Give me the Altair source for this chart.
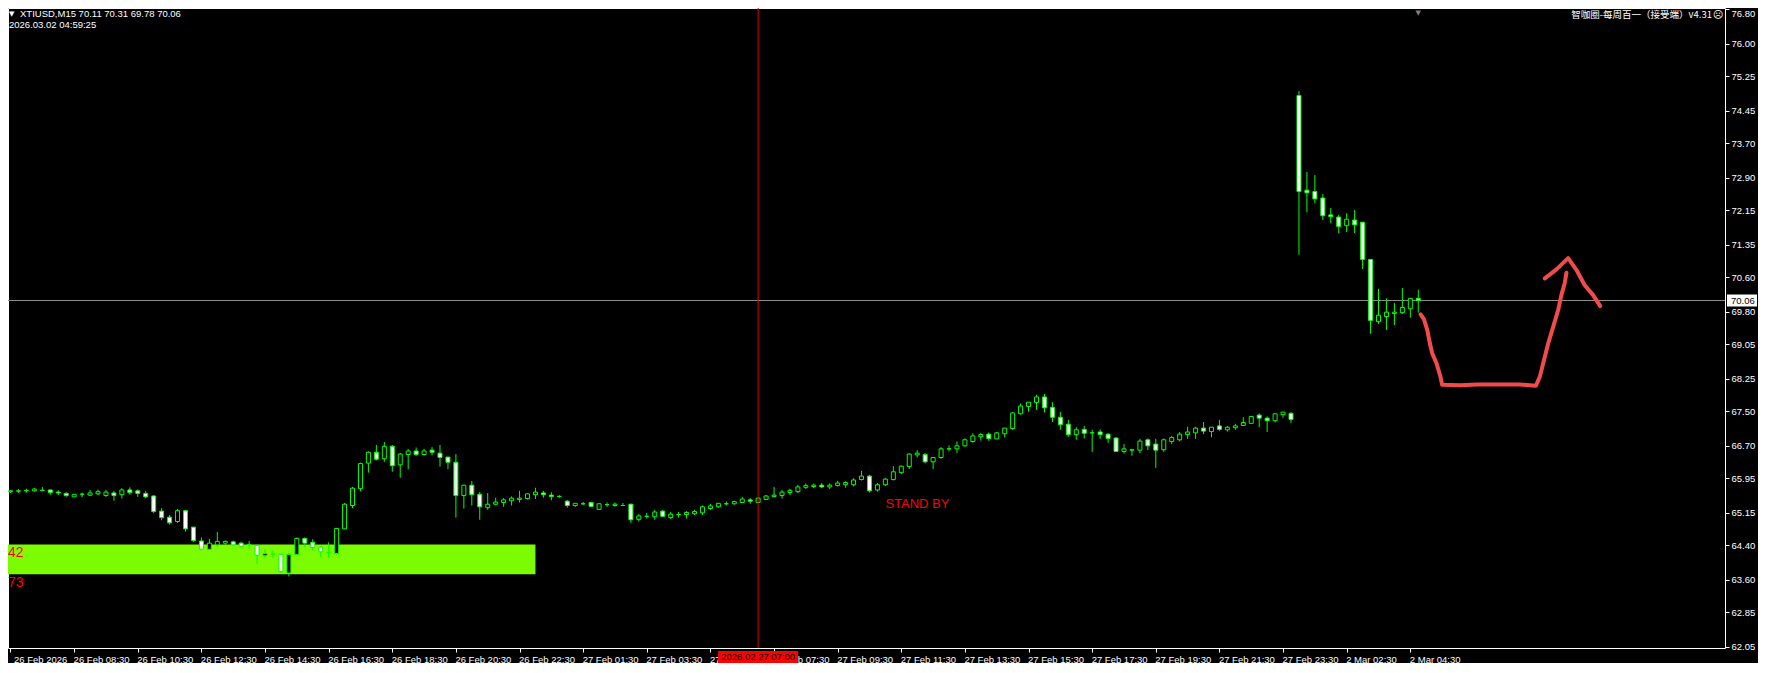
import altair as alt
import pandas as pd

# ---------------- data ----------------
symbol = "XTIUSD"
timeframe = "M15"
server_time = "2026.03.02 04:59:25"
indicator_title = "智咖圈-每周百一（接受端）v4.31"

bar_open = [65.64, 65.65, 65.66, 65.66, 65.67, 65.68, 65.63, 65.60, 65.52, 65.58,
            65.56, 65.59, 65.55, 65.61, 65.57, 65.68, 65.66, 65.60, 65.54, 65.19,
            65.05, 64.95, 65.20, 64.82, 64.50, 64.31, 64.41, 64.45, 64.48, 64.45,
            64.41, 64.40, 64.16, 64.20, 64.19, 63.76, 64.19, 64.56, 64.47, 64.36,
            64.23, 64.21, 64.78, 65.32, 65.71, 66.30, 66.55, 66.40, 66.69, 66.26,
            66.50, 66.58, 66.50, 66.60, 66.53, 66.44, 66.32, 65.55, 65.79, 65.58,
            65.27, 65.35, 65.39, 65.43, 65.46, 65.48, 65.57, 65.61, 65.56, 65.53,
            65.42, 65.32, 65.36, 65.39, 65.23, 65.34, 65.32, 65.32, 65.35, 65.00,
            65.07, 65.06, 65.19, 65.04, 65.11, 65.11, 65.13, 65.15, 65.25, 65.29,
            65.36, 65.36, 65.39, 65.45, 65.39, 65.46, 65.53, 65.55, 65.62, 65.64,
            65.74, 65.76, 65.79, 65.75, 65.78, 65.80, 65.80, 65.92, 66.00, 65.68,
            65.80, 65.92, 66.08, 66.22, 66.49, 66.50, 66.33, 66.43, 66.63, 66.63,
            66.70, 66.80, 66.91, 66.97, 66.86, 66.98, 67.10, 67.44, 67.61, 67.70,
            67.83, 67.59, 67.36, 67.20, 66.96, 67.08, 67.00, 67.02, 66.97, 66.88,
            66.57, 66.60, 66.60, 66.84, 66.74, 66.61, 66.80, 66.84, 66.96, 67.00,
            67.11, 67.03, 67.16, 67.07, 67.12, 67.17, 67.22, 67.41, 67.34, 67.28,
            67.42, 67.45, 74.80, 72.61, 72.58, 72.43, 72.04, 71.99, 71.79, 71.92,
            71.87, 71.01, 69.57, 69.69, 69.76, 69.78, 69.87, 70.11]
bar_high = [65.68, 65.70, 65.71, 65.73, 65.75, 65.68, 65.67, 65.63, 65.58, 65.62,
            65.68, 65.69, 65.68, 65.66, 65.72, 65.74, 65.69, 65.66, 65.56, 65.26,
            65.10, 65.24, 65.22, 64.82, 64.58, 64.55, 64.71, 64.51, 64.51, 64.48,
            64.50, 64.40, 64.31, 64.28, 64.21, 64.22, 64.58, 64.58, 64.54, 64.39,
            64.47, 64.80, 65.38, 65.75, 66.31, 66.57, 66.72, 66.79, 66.72, 66.54,
            66.63, 66.66, 66.63, 66.67, 66.72, 66.44, 66.51, 65.79, 65.89, 65.63,
            65.61, 65.50, 65.49, 65.53, 65.66, 65.60, 65.73, 65.66, 65.63, 65.56,
            65.45, 65.37, 65.40, 65.39, 65.37, 65.39, 65.39, 65.38, 65.36, 65.12,
            65.15, 65.22, 65.22, 65.17, 65.17, 65.19, 65.22, 65.32, 65.36, 65.38,
            65.41, 65.43, 65.52, 65.49, 65.51, 65.56, 65.75, 65.68, 65.71, 65.80,
            65.83, 65.83, 65.84, 65.83, 65.89, 65.88, 65.95, 66.12, 66.03, 65.84,
            65.96, 66.23, 66.24, 66.53, 66.60, 66.53, 66.43, 66.67, 66.71, 66.80,
            66.87, 66.99, 67.00, 67.01, 67.02, 67.11, 67.48, 67.68, 67.71, 67.88,
            67.90, 67.71, 67.48, 67.30, 67.13, 67.16, 67.07, 67.08, 66.99, 66.90,
            66.74, 66.63, 66.86, 66.87, 66.86, 66.87, 66.93, 67.02, 67.14, 67.14,
            67.25, 67.13, 67.30, 67.16, 67.21, 67.36, 67.38, 67.45, 67.38, 67.45,
            67.48, 67.48, 74.90, 73.03, 72.96, 72.52, 72.20, 72.04, 72.08, 72.15,
            71.87, 71.01, 70.33, 70.11, 70.00, 70.35, 70.11, 70.31]
bar_low = [65.61, 65.61, 65.62, 65.64, 65.65, 65.57, 65.56, 65.52, 65.52, 65.51,
           65.54, 65.56, 65.52, 65.43, 65.48, 65.57, 65.52, 65.49, 65.14, 64.98,
           64.88, 64.92, 64.72, 64.48, 64.28, 64.29, 64.37, 64.41, 64.39, 64.35,
           64.32, 63.97, 64.12, 64.11, 63.76, 63.68, 64.18, 64.36, 64.28, 64.13,
           64.13, 64.18, 64.78, 65.26, 65.65, 66.08, 66.36, 66.33, 66.10, 65.96,
           66.16, 66.47, 66.48, 66.48, 66.22, 66.16, 65.04, 65.25, 65.32, 64.99,
           65.22, 65.33, 65.29, 65.32, 65.39, 65.46, 65.47, 65.50, 65.44, 65.50,
           65.27, 65.29, 65.33, 65.29, 65.22, 65.29, 65.29, 65.32, 64.92, 64.95,
           65.02, 64.99, 65.05, 65.01, 65.04, 65.02, 65.10, 65.10, 65.22, 65.27,
           65.32, 65.34, 65.38, 65.36, 65.38, 65.45, 65.52, 65.48, 65.56, 65.61,
           65.70, 65.72, 65.72, 65.70, 65.76, 65.73, 65.76, 65.90, 65.62, 65.64,
           65.77, 65.90, 66.05, 66.16, 66.43, 66.30, 66.16, 66.40, 66.57, 66.53,
           66.68, 66.77, 66.82, 66.82, 66.86, 66.90, 67.07, 67.42, 67.49, 67.53,
           67.47, 67.25, 67.07, 66.91, 66.84, 66.87, 66.56, 66.86, 66.77, 66.56,
           66.52, 66.47, 66.53, 66.60, 66.19, 66.56, 66.74, 66.81, 66.86, 66.86,
           66.97, 66.90, 67.05, 67.03, 67.07, 67.16, 67.21, 67.13, 67.02, 67.24,
           67.35, 67.23, 71.12, 72.10, 72.31, 71.92, 71.85, 71.62, 71.64, 71.62,
           70.79, 69.29, 69.52, 69.38, 69.49, 69.75, 69.66, 69.78]
bar_close = [65.66, 65.66, 65.67, 65.70, 65.67, 65.62, 65.61, 65.55, 65.58, 65.58,
             65.61, 65.64, 65.63, 65.55, 65.68, 65.62, 65.60, 65.52, 65.18, 65.04,
             64.92, 65.20, 64.78, 64.51, 64.31, 64.45, 64.49, 64.49, 64.41, 64.38,
             64.42, 64.17, 64.21, 64.20, 63.79, 64.19, 64.56, 64.45, 64.35, 64.25,
             64.23, 64.79, 65.35, 65.72, 66.29, 66.55, 66.39, 66.69, 66.24, 66.51,
             66.58, 66.50, 66.58, 66.55, 66.43, 66.32, 65.55, 65.79, 65.57, 65.29,
             65.35, 65.40, 65.45, 65.49, 65.49, 65.59, 65.63, 65.57, 65.53, 65.53,
             65.32, 65.37, 65.36, 65.30, 65.36, 65.34, 65.35, 65.32, 64.99, 65.08,
             65.07, 65.17, 65.07, 65.12, 65.11, 65.16, 65.18, 65.29, 65.31, 65.37,
             65.36, 65.41, 65.47, 65.42, 65.49, 65.54, 65.56, 65.63, 65.67, 65.75,
             65.78, 65.79, 65.75, 65.79, 65.84, 65.85, 65.91, 66.00, 65.66, 65.80,
             65.93, 66.10, 66.23, 66.51, 66.53, 66.33, 66.43, 66.63, 66.63, 66.70,
             66.84, 66.93, 66.96, 66.87, 67.00, 67.11, 67.46, 67.62, 67.71, 67.83,
             67.58, 67.36, 67.19, 66.96, 67.07, 66.99, 67.00, 66.96, 66.87, 66.57,
             66.63, 66.61, 66.81, 66.70, 66.60, 66.84, 66.89, 66.97, 67.02, 67.11,
             67.04, 67.13, 67.08, 67.13, 67.16, 67.24, 67.38, 67.34, 67.28, 67.44,
             67.48, 67.31, 72.58, 72.55, 72.41, 72.02, 72.00, 71.77, 71.94, 71.81,
             71.01, 69.60, 69.72, 69.79, 69.79, 69.90, 70.11, 70.06]

x_tick_bars = [0, 8, 16, 24, 32, 40, 48, 56, 64, 72, 80, 88, 96, 104, 112, 120,
               128, 136, 144, 152, 160, 168, 176]
x_tick_labels = ["26 Feb 2026", "26 Feb 08:30", "26 Feb 10:30", "26 Feb 12:30",
                 "26 Feb 14:30", "26 Feb 16:30", "26 Feb 18:30", "26 Feb 20:30",
                 "26 Feb 22:30", "27 Feb 01:30", "27 Feb 03:30", "27 Feb 05:30",
                 "27 Feb 07:30", "27 Feb 09:30", "27 Feb 11:30", "27 Feb 13:30",
                 "27 Feb 15:30", "27 Feb 17:30", "27 Feb 19:30", "27 Feb 21:30",
                 "27 Feb 23:30", "2 Mar 02:30", "2 Mar 04:30"]
y_tick_values = [76.80, 76.00, 75.25, 74.45, 73.70, 72.90, 72.15, 71.35, 70.60,
                 69.80, 69.05, 68.25, 67.50, 66.70, 65.95, 65.15, 64.40, 63.60,
                 62.85, 62.05]

zone_top = 64.42
zone_bottom = 63.73
zone_start_bar = -2
zone_end_bar = 66
zone_label_top = "42"
zone_label_bottom = "73"
bid_price = 70.06
vline_bar = 94
vline_label = "2026.02.27 07:00"
shift_bar = 177
note_bar = 110
note_price = 65.36
note_text = "STAND BY"

path_bar = [177.29, 177.71, 178.13, 178.46, 178.75, 179.29, 179.79, 180.0, 182.29,
            184.38, 189.79, 191.79, 192.29, 192.71, 193.34, 193.96, 194.59, 195.0,
            195.41, 195.63,
            192.91, 194.38, 195.84, 196.88, 197.91, 198.96, 199.88]
path_price = [69.74, 69.63, 69.38, 69.07, 68.84, 68.61, 68.30, 68.11, 68.10,
              68.12, 68.12, 68.09, 68.30, 68.61, 69.07, 69.45, 69.84, 70.19,
              70.46, 70.70,
              70.57, 70.78, 71.04, 70.77, 70.42, 70.19, 69.93]
path_stroke = [1] * 20 + [2] * 7

# ---------------- layout ----------------
W, H = 1717, 640
X_DOMAIN = [0.3125, 214.9375]
Y_DOMAIN = [62.0254, 76.8231]
GREEN = "#00ff00"
RED = "#ff0000"
FONT = "Liberation Sans"

xs = alt.Scale(domain=X_DOMAIN, nice=False, zero=False)
ys = alt.Scale(domain=Y_DOMAIN, nice=False, zero=False)

n = len(bar_open)
candles = pd.DataFrame({
    "bar": list(range(n)),
    "open": bar_open, "high": bar_high, "low": bar_low, "close": bar_close,
})
candles["body_top"] = candles[["open", "close"]].max(axis=1)
candles["body_bot"] = candles[["open", "close"]].min(axis=1)
candles["fill"] = ["black" if c > o else ("white" if c < o else GREEN)
                   for o, c in zip(bar_open, bar_close)]

tick_pos = [b + 0.5 for b in x_tick_bars]
labels_js = "[" + ",".join("'" + s + "'" for s in x_tick_labels) + "]"
pos_js = "[" + ",".join(str(p) for p in tick_pos) + "]"

x_axis = alt.Axis(
    values=tick_pos, tickOffset=-4,
    labelExpr=f"{labels_js}[indexof({pos_js}, datum.value)]",
    labelOffset={"condition": {"test": "datum.value < 1", "value": 3}, "value": -1},
    labelAlign="left", labelBaseline="top", labelPadding=2,
    tickSize=4, tickColor="white", labelColor="white", domain=False, grid=False,
    labelFont=FONT, labelFontSize=9.5, labelOverlap=False, labelBound=False,
    labelFlush=False, title=None, orient="bottom")
y_axis = alt.Axis(
    values=y_tick_values, format=".2f", orient="right",
    labelAlign="left",
    labelBaseline={"condition": {"test": "datum.value > 76.7", "value": "top"}, "value": "middle"},
    labelPadding=2, tickSize=4, tickColor="white", labelColor="white",
    domain=False, grid=False, labelFont=FONT, labelFontSize=9.5,
    labelOverlap=False, labelBound=False, labelFlush=False, title=None)


def X(f):
    return alt.X(f, type="quantitative", scale=xs, axis=x_axis)


def Y(f):
    return alt.Y(f, type="quantitative", scale=ys, axis=y_axis)


zone = alt.Chart(pd.DataFrame({"x0": [zone_start_bar], "x1": [zone_end_bar],
                               "y0": [zone_bottom], "y1": [zone_top]})).mark_rect(
    color="#7cfc00", clip=True).encode(x=X("x0"), x2=alt.X2("x1"), y=Y("y0"), y2=alt.Y2("y1"))

bid_line = alt.Chart(pd.DataFrame({"price": [bid_price]})).mark_rule(
    color="#8c8c8c", strokeWidth=1).encode(y=Y("price"))

wicks = alt.Chart(candles).mark_rule(color=GREEN, strokeWidth=1, clip=True).encode(
    x=X("bar"), y=Y("low"), y2=alt.Y2("high"))

bodies = alt.Chart(candles).mark_bar(size=4, stroke=GREEN, strokeWidth=1, clip=True).encode(
    x=X("bar"), y=Y("body_bot"), y2=alt.Y2("body_top"),
    fill=alt.Fill("fill:N", scale=None))

vline = alt.Chart(pd.DataFrame({"bar": [vline_bar]})).mark_rule(
    color="#e00000", strokeWidth=1).encode(x=X("bar"))

path_df = pd.DataFrame({"bar": path_bar, "price": path_price, "stroke": path_stroke,
                        "seq": list(range(len(path_bar)))})
path = alt.Chart(path_df).mark_line(color="#f24b4b", strokeWidth=4, strokeCap="round",
                                    strokeJoin="round", clip=True).encode(
    x=X("bar"), y=Y("price"), detail="stroke:N", order="seq:Q")

note = alt.Chart(pd.DataFrame({"bar": [note_bar], "price": [note_price], "t": [note_text]})).mark_text(
    color=RED, font=FONT, fontSize=13, align="left", baseline="middle", clip=True).encode(
    x=X("bar"), y=Y("price"), text="t:N")

zone_labels = alt.Chart(pd.DataFrame({"price": [zone_top, zone_bottom],
                                      "t": [zone_label_top, zone_label_bottom]})).mark_text(
    color=RED, font=FONT, fontSize=14, align="left", baseline="top", dy=2).encode(
    x=alt.value(0), y=Y("price"), text="t:N")

header1 = f"{symbol},{timeframe}  {bar_open[-1]:.2f} {bar_high[-1]:.2f} {bar_low[-1]:.2f} {bar_close[-1]:.2f}"
hdr = pd.DataFrame({"t": [header1]})
head1 = alt.Chart(hdr).mark_text(color="white", font=FONT, fontSize=9.5, align="left",
                                 baseline="middle").encode(
    x=alt.value(12), y=alt.value(5.5), text="t:N")
head_tri = alt.Chart(hdr).mark_text(color="white", font="DejaVu Sans", fontSize=7, align="left",
                                    baseline="middle").encode(
    x=alt.value(1), y=alt.value(5.5), text=alt.value("▼"))
head2 = alt.Chart(pd.DataFrame({"t": [server_time]})).mark_text(
    color="white", font=FONT, fontSize=9.5, align="left", baseline="middle").encode(
    x=alt.value(1), y=alt.value(17), text="t:N")
title_r = alt.Chart(pd.DataFrame({"t": [indicator_title]})).mark_text(
    color="white", font="Noto Sans CJK SC", fontSize=9.5, align="right", baseline="middle").encode(
    x=alt.value(W - 13), y=alt.value(7), text="t:N")
face = alt.Chart(hdr).mark_text(color="white", font="DejaVu Sans", fontSize=10, align="center",
                                baseline="middle").encode(
    x=alt.value(W - 7), y=alt.value(7), text=alt.value("☹"))
shift_mark = alt.Chart(pd.DataFrame({"bar": [shift_bar]})).mark_text(
    color="#808080", font="DejaVu Sans", fontSize=7, align="center", baseline="top").encode(
    x=X("bar"), y=alt.value(1), text=alt.value("▼"))

bid_box = alt.Chart(pd.DataFrame({"price": [bid_price]})).mark_rect(
    color="white", clip=False, yOffset=-6, y2Offset=6).encode(
    x=alt.value(W + 2), x2=alt.value(W + 32), y=Y("price"), y2=alt.Y2("price"))
bid_text = alt.Chart(pd.DataFrame({"price": [bid_price], "t": [f"{bid_price:.2f}"]})).mark_text(
    color="black", font=FONT, fontSize=9.5, align="left", baseline="middle", clip=False).encode(
    x=alt.value(W + 6), y=Y("price"), text="t:N")

time_box = alt.Chart(pd.DataFrame({"bar": [vline_bar]})).mark_rect(
    color=RED, clip=False, xOffset=-40, x2Offset=40).encode(
    x=X("bar"), x2=alt.X2("bar"), y=alt.value(H + 3), y2=alt.value(H + 15))
time_text = alt.Chart(pd.DataFrame({"bar": [vline_bar], "t": [vline_label]})).mark_text(
    color="black", font=FONT, fontSize=9.5, align="center", baseline="middle", clip=False).encode(
    x=X("bar"), y=alt.value(H + 9), text="t:N")

chart = alt.layer(
    zone, bid_line, wicks, bodies, vline, path, note, zone_labels,
    head_tri, head1, head2, title_r, face, shift_mark,
    bid_box, bid_text, time_box, time_text,
).properties(
    width=W, height=H, background="black",
    padding={"left": 0, "top": 0, "right": 33, "bottom": 15},
    autosize=alt.AutoSizeParams(type="none"),
).configure_view(stroke="white", strokeWidth=1)

chart.save("out.html", embed_options={"renderer": "svg", "actions": False})
